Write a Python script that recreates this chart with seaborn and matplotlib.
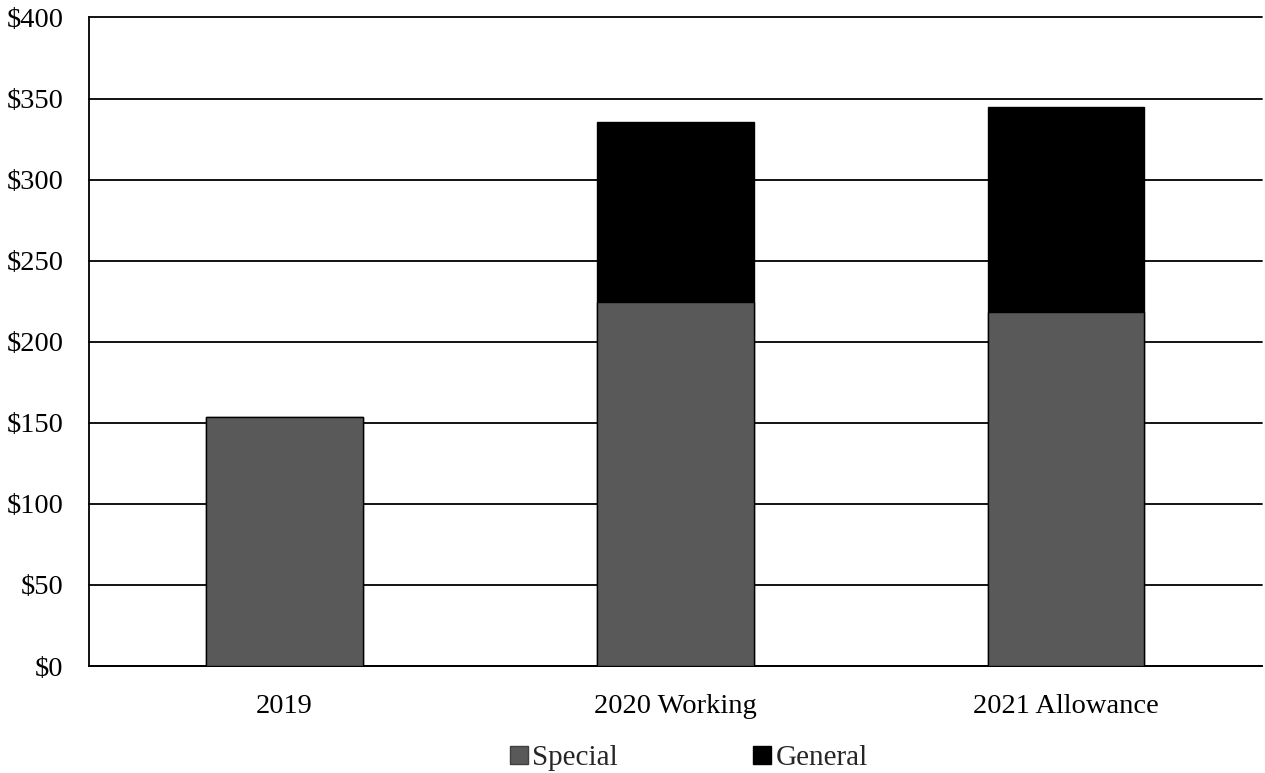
import matplotlib
matplotlib.use("Agg")
import matplotlib.pyplot as plt
from matplotlib.lines import Line2D
import seaborn as sns
import pandas as pd

# Spending by fund source ($ millions)
categories = ["2019", "2020 Working", "2021 Allowance"]
special = [153.8, 224.3, 218.2]
general = [0.0, 111.1, 126.4]
y_ticks = [0, 50, 100, 150, 200, 250, 300, 350, 400]

sns.set_theme(style="white")
plt.rcParams["font.family"] = ["Liberation Serif", "DejaVu Serif"]

df = pd.DataFrame({
    "year": categories,
    "special": special,
    "total": [s + g for s, g in zip(special, general)],
})

fig = plt.figure(figsize=(12.65, 7.73), dpi=100)
ax = fig.add_axes([0.0704, 0.1384, 0.927, 0.839])

ax.set_axisbelow(True)
for t in y_ticks:
    ax.axhline(t, color="black", lw=1.3, zorder=0, clip_on=False)

sns.barplot(data=df, x="year", y="total", color="black", width=0.4,
            edgecolor="black", linewidth=1.0, saturation=1, ax=ax, zorder=2)
sns.barplot(data=df, x="year", y="special", color="#595959", width=0.4,
            edgecolor="black", linewidth=1.0, saturation=1, ax=ax, zorder=3)

ax.set_ylim(0, 400)
ax.set_xlim(-0.5, 2.5)
ax.set_yticks(y_ticks)
ax.set_yticklabels([f"${v}" for v in y_ticks])
ax.set_xlabel("")
ax.set_ylabel("")
ax.tick_params(axis="both", length=0, labelsize=20.5, colors="black")
ax.tick_params(axis="y", pad=18.5)
ax.tick_params(axis="x", pad=20)

for side in ["top", "right"]:
    ax.spines[side].set_visible(False)
ax.spines["left"].set_color("black")
ax.spines["left"].set_linewidth(1.3)
ax.spines["bottom"].set_color("black")
ax.spines["bottom"].set_linewidth(1.3)

handles = [
    Line2D([], [], marker="s", linestyle="none", markersize=13,
           markerfacecolor="#595959", markeredgecolor="#404040", markeredgewidth=1.0),
    Line2D([], [], marker="s", linestyle="none", markersize=13,
           markerfacecolor="black", markeredgecolor="black"),
]
fig.legend(handles, ["Special", "General"], loc="center", ncol=2,
           bbox_to_anchor=(0.543, 0.02), frameon=False, fontsize=21,
           handletextpad=0.0, columnspacing=4.5, handlelength=0.9)

fig.savefig("out.png", dpi=100)
